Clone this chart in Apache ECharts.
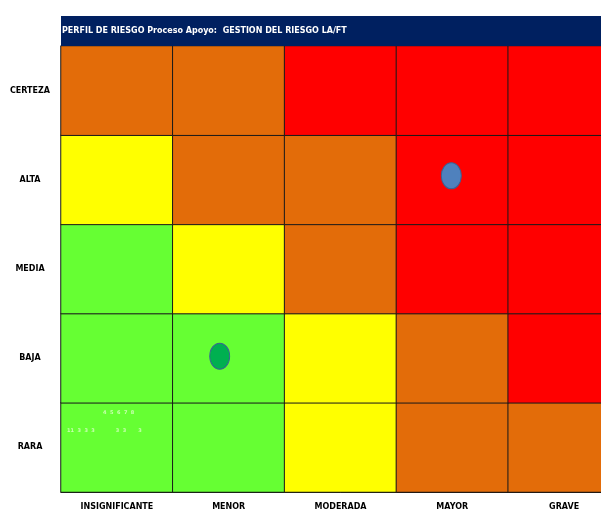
<!DOCTYPE html>
<html>
<head>
<meta charset="utf-8">
<script src="https://cdn.jsdelivr.net/npm/echarts@6/dist/echarts.min.js"></script>
<style>
html,body{margin:0;padding:0;background:#fff;overflow:hidden;}
#main{width:620px;height:511px;}
</style>
</head>
<body>
<div id="main"></div>
<script>
// Impact (x) categories
var impactCategories = ['INSIGNIFICANTE', 'MENOR', 'MODERADA', 'MAYOR', 'GRAVE'];
// Probability (y) categories, bottom to top
var probabilityCategories = ['RARA', 'BAJA', 'MEDIA', 'ALTA', 'CERTEZA'];
// Risk level per cell: rows follow probabilityCategories (bottom to top), columns follow impactCategories
// 1 = bajo (verde), 2 = moderado (amarillo), 3 = alto (naranja), 4 = extremo (rojo)
var riskRara    = [1, 1, 2, 3, 3];
var riskBaja    = [1, 1, 2, 3, 4];
var riskMedia   = [1, 2, 3, 4, 4];
var riskAlta    = [2, 3, 3, 4, 4];
var riskCerteza = [3, 3, 4, 4, 4];
// Risk markers: [impact, probability]
var inherentRisk = ['MAYOR', 'ALTA'];
var residualRisk = ['MENOR', 'BAJA'];
var titleText = 'PERFIL DE RIESGO Proceso Apoyo:  GESTION DEL RIESGO LA/FT';

var riskRows = [riskRara, riskBaja, riskMedia, riskAlta, riskCerteza];
var heatData = [];
riskRows.forEach(function (row, yi) {
  row.forEach(function (v, xi) { heatData.push([xi, yi, v]); });
});

var chart = echarts.init(document.getElementById('main'), null, {renderer: 'canvas'});
var labelFont = {fontFamily: 'DejaVu Sans', fontWeight: 'bold', fontSize: 8, color: '#000'};
chart.setOption({
  animation: false,
  backgroundColor: '#fff',
  grid: {left: 61, top: 46, width: 559, height: 447, containLabel: false},
  xAxis: {
    type: 'category', data: impactCategories,
    axisLine: {show: true, lineStyle: {color: '#000', width: 1}},
    axisTick: {show: false}, splitLine: {show: false},
    axisLabel: Object.assign({margin: 11, interval: 0}, labelFont)
  },
  yAxis: {
    type: 'category', data: probabilityCategories,
    axisLine: {show: true, lineStyle: {color: '#000', width: 1}},
    axisTick: {show: false}, splitLine: {show: false},
    axisLabel: Object.assign({margin: 31, align: 'center', interval: 0}, labelFont)
  },
  visualMap: {
    show: false, type: 'piecewise', seriesIndex: 0, dimension: 2,
    pieces: [
      {value: 1, color: '#66FF33'},
      {value: 2, color: '#FFFF00'},
      {value: 3, color: '#E36C09'},
      {value: 4, color: '#FF0000'}
    ]
  },
  graphic: [
    {type: 'rect', left: 61, top: 16, shape: {width: 559, height: 30}, style: {fill: '#002060'}, z: 10},
    {type: 'text', left: 62, top: 27, style: {text: titleText, fill: '#fff', font: 'bold 8px "DejaVu Sans"'}, z: 11},
    {type: 'text', left: 103, top: 410, style: {text: '4  5  6  7  8', fill: 'rgba(235,255,220,0.75)', font: 'bold 5px "DejaVu Sans"'}, z: 11},
    {type: 'text', left: 67, top: 428, style: {text: '11  3  3  3            3  3       3', fill: 'rgba(235,255,220,0.75)', font: 'bold 5px "DejaVu Sans"'}, z: 11}
  ],
  series: [
    {
      type: 'heatmap', data: heatData,
      itemStyle: {borderColor: '#1a1a1a', borderWidth: 1},
      emphasis: {disabled: true}
    },
    {
      type: 'scatter', data: [inherentRisk], symbol: 'circle', symbolSize: [20, 26],
      symbolOffset: [-1, -4],
      itemStyle: {color: '#4F81BD', borderColor: '#3A6394', borderWidth: 1, opacity: 1}, z: 5
    },
    {
      type: 'scatter', data: [residualRisk], symbol: 'circle', symbolSize: [20, 26],
      symbolOffset: [-9, -2],
      itemStyle: {color: '#00B050', borderColor: '#3A6394', borderWidth: 1, opacity: 1}, z: 5
    }
  ]
});
</script>
</body>
</html>
